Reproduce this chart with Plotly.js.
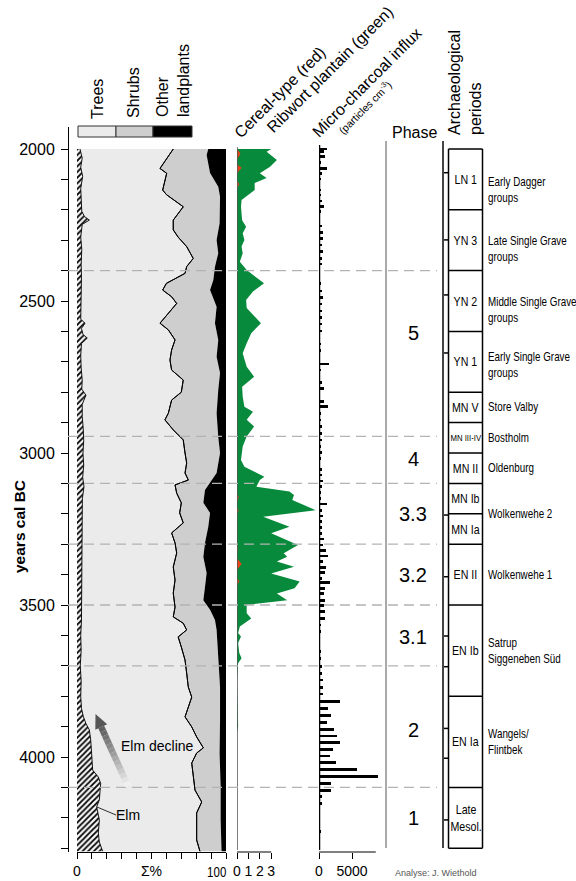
<!DOCTYPE html>
<html><head><meta charset="utf-8">
<script src="https://cdn.plot.ly/plotly-3.0.1.min.js"></script>
<style>html,body{margin:0;padding:0;background:#fff}#chart{width:576px;height:881px}</style>
</head><body><div id="chart"></div>
<script>
// ---------------- DATA ----------------
const treesYear = [2000,2015,2064,2080,2135,2150,2190,2234,2266,2290,2321,2360,2387,2409,2425,2442,2464,2486,2508,2540,2573,2595,2628,2661,2694,2727,2760,2800,2826,2869,2891,2924,2957,3000,3033,3066,3089,3105,3132,3164,3197,3230,3263,3296,3329,3375,3418,3461,3507,3539,3560,3582,3605,3638,3681,3724,3770,3803,3836,3868,3901,3934,3970,3987,4020,4066,4109,4148,4184,4230,4273,4310];
const treesPct = [64.6,62.4,55.7,60.2,57.5,60,71.3,64.6,64.6,67.9,73.6,78,73.6,72.5,66.9,60,57.5,63.5,66.9,61.3,55.7,61.3,65.8,63.5,62.4,63.5,71.3,70,63.5,61.3,59,64.6,71.3,72.5,73.6,72.5,74.7,65.8,66.9,70,68.9,71.3,63.5,65.8,66.9,64.6,65.8,64.6,65.8,64.6,71.3,73.6,67.9,70,72.5,73.6,74.7,77,74.7,72.5,77,80.3,84.8,80.3,77,78,79.2,83.7,80.3,80.3,80.3,82.5];

// cumulative trees + shrubs
const sumYear = [2000,2020,2079,2124,2157,2245,2299,2343,2387,2431,2464,2519,2573,2628,2683,2737,2793,2869,2947,3000,3066,3089,3122,3164,3197,3243,3296,3342,3395,3441,3484,3516,3549,3582,3658,3770,3878,3987,4098,4207,4310];
const sumPct = [88.1,87,89.3,94.8,96,95.7,93.7,94.8,92.6,91.5,89.3,93.7,92.6,94.8,93.7,96,94.8,93.7,94.8,96,93.7,90.4,85.9,84.8,89.3,88.1,85.9,84.8,87,85.9,84.8,89.3,92.6,93.7,94.8,96,96,95.7,96.4,96.4,97];

const elmYear = [2000,2030,2060,2090,2130,2170,2205,2222,2234,2248,2290,2330,2380,2420,2470,2520,2560,2573,2590,2610,2622,2640,2680,2720,2760,2790,2810,2840,2880,2920,2960,3000,3040,3080,3110,3150,3200,3250,3300,3350,3400,3450,3500,3550,3600,3650,3700,3750,3800,3840,3868,3890,3911,3944,3987,4020,4043,4066,4087,4110,4141,4164,4185,4207,4250,4280,4310];
const elmPct = [2.0,3.5,2.5,3.8,2.5,3.0,3.2,5.0,8.3,3.5,2.5,3.2,2.8,3.0,2.8,3.0,2.5,5.4,3.0,4.0,6.9,3.0,2.5,2.8,3.5,3.2,6.0,3.5,3.5,4.2,4.5,4.0,4.5,3.8,4.7,3.6,3.5,3.2,3.5,3.0,3.2,3.0,3.2,3.0,2.5,2.8,2.2,2.8,2.5,3.0,4.3,6.0,8.3,9.2,9.8,10.0,10.5,14.3,15.9,15.5,15.0,13.2,14.0,15.0,14.3,15.0,17.2];

const ribYear = [2000,2009,2036,2058,2080,2095,2112,2135,2168,2190,2234,2256,2277,2299,2321,2343,2371,2398,2442,2469,2497,2523,2573,2606,2639,2672,2716,2749,2782,2815,2848,2864,2891,2913,2946,2979,3023,3045,3078,3089,3111,3127,3138,3155,3188,3210,3243,3264,3303,3330,3341,3357,3374,3396,3423,3445,3462,3484,3500,3527,3544,3571,3592,3604,3625,3658,3675,3692,3750,3900,3920,4310];
const ribVal = [3.0,2.6,3.5,2.9,2.0,2.6,1.55,1.55,0.4,0.35,0.45,0.8,0.5,0.65,0.4,0.5,0.25,0.85,2.37,1.4,0.8,0.85,2.1,1.25,0.85,0.5,0.85,1.5,0.45,0.5,0.65,1.4,0.85,1.5,0.85,0.5,0.35,0.65,2.4,2.0,1.7,4.6,5.0,4.85,6.9,2.3,4.6,3.0,5.35,4.1,4.4,3.5,5.0,3.0,5.5,5.05,3.5,4.4,0.85,0.85,1.25,0.25,0.1,0.35,0.1,0.2,0.4,0.1,0,0.1,0,0];

const cerYear = [2000,2015,2035,2050,2062,2080,2105,2115,2130,3135,3145,3160,3180,3188,3200,3305,3315,3330,3345,3365,3385,3410,3423,3435,4310];
const cerVal = [0,0.3,0,0,0.4,0,0,0.2,0,0,0.15,0,0,0.15,0,0,0.1,0,0,0.4,0,0,0.2,0,0];

const charYear = [2000,2009,2025,2045,2063,2080,2099,2135,2151,2171,2190,2206,2253,2275,2295,2316,2338,2360,2378,2442,2467,2488,2510,2533,2555,2576,2599,2641,2663,2707,2727,2767,2787,2831,2848,2869,2891,2913,2935,2957,2979,2999,3017,3054,3072,3092,3111,3129,3149,3168,3188,3207,3226,3244,3264,3283,3303,3321,3339,3358,3376,3394,3412,3427,3445,3462,3484,3502,3522,3544,3566,3588,3632,3654,3675,3703,3725,3747,3771,3793,3818,3841,3864,3886,3909,3931,3953,3975,3997,4019,4042,4063,4086,4109,4131,4154,4177,4198,4220,4244,4267,4295];
const charVal = [1260,760,860,350,1160,450,250,350,250,500,760,350,450,650,600,450,600,450,450,350,500,600,500,450,400,500,400,300,250,1460,250,400,700,700,1360,350,350,450,500,450,350,450,350,500,450,600,400,250,350,1210,450,600,500,500,450,760,600,1010,1360,600,1010,860,500,1620,960,760,860,760,860,860,350,250,200,250,250,450,400,600,600,600,3230,1360,1770,1210,2270,2730,3230,2120,1720,2520,5810,8890,1770,1870,500,400,100,100,100,300,100,100];

const yTickYears = [2000,2100,2200,2300,2400,2500,2600,2700,2800,2900,3000,3100,3200,3300,3400,3500,3600,3700,3800,3900,4000,4100,4200,4300];
const yTickLabels = ['2000','','','','','2500','','','','','3000','','','','','3500','','','','','4000','','',''];
const pctTicks = [0,10,20,30,40,50,60,70,80,90,100];
const pctTickLabels = ['0','','','','','Σ%','','','','','100'];
const cerTicks = [0,1,2,3];
const charTicks = [0,5000];

const dashYears = [2400,2945,3100,3300,3500,3700,4100];
const phaseNames = ['5','4','3.3','3.2','3.1','2','1'];
const phaseYears = [2605,3020,3200,3400,3605,3910,4200];

const periodBounds = [2000,2200,2400,2600,2800,2900,3000,3100,3200,3300,3500,3800,4100,4300];
const periodNames = ['LN 1','YN 3','YN 2','YN 1','MN V','MN III-IV','MN II','MN Ib','MN Ia','EN II','EN Ib','EN Ia','Late<br>Mesol.'];
const periodTickYears = [2078,2299,2480,2671,3204,3407,3602,3703,3906,4004,4207];
const cultureNames = ['Early Dagger<br>groups','Late Single Grave<br>groups','Middle Single Grave<br>groups','Early Single Grave<br>groups','Store Valby','Bostholm','Oldenburg','Wolkenwehe 2','Wolkenwehe 1','Satrup<br>Siggeneben Süd','Wangels/<br>Flintbek'];
const cultureYears = [2135,2330,2530,2710,2850,2950,3050,3200,3400,3650,3950];

// ---------------- LAYOUT HELPERS ----------------
const W = 576, H = 881, T = 127, B = 29, PH = H - T - B;
const PXY = 0.304; // px per year
const px = x => x / W;
const py = y => 1 - (y - T) / PH;
const FONT = 'Liberation Sans, Arial, Helvetica, sans-serif';
const LIGHT = '#ebebeb', MID = '#cecece', GREEN = '#078a3b', RED = '#e8431a';

const yTop = 2000 - (149 - T) / PXY;
const yBot = 2000 + (852 - 149) / PXY;

// ---------------- TRACES ----------------
const traces = [
  {x: treesPct, y: treesYear, xaxis: 'x', yaxis: 'y', mode: 'lines', fill: 'tozerox',
   fillcolor: LIGHT, line: {color: '#000', width: 1}, hoverinfo: 'skip', name: 'Trees'},
  {x: sumPct, y: sumYear, xaxis: 'x', yaxis: 'y', mode: 'lines', fill: 'tonextx',
   fillcolor: MID, line: {color: MID, width: 0}, hoverinfo: 'skip', name: 'Shrubs'},
  {x: sumYear.map(() => 100), y: sumYear, xaxis: 'x', yaxis: 'y', mode: 'lines', fill: 'tonextx',
   fillcolor: '#000', line: {color: '#000', width: 0}, hoverinfo: 'skip', name: 'Other landplants'},
  {x: treesPct, y: treesYear, xaxis: 'x', yaxis: 'y', mode: 'lines',
   line: {color: '#000', width: 1}, hoverinfo: 'skip', name: 'Trees line'},
  {x: elmPct, y: elmYear, xaxis: 'x', yaxis: 'y', mode: 'lines', fill: 'tozerox',
   fillcolor: '#f7f7f7', fillpattern: {shape: '/', fgcolor: '#000', bgcolor: '#f7f7f7', size: 4, solidity: 0.45},
   line: {color: '#000', width: 0.9}, hoverinfo: 'skip', name: 'Elm'},
  {x: ribVal, y: ribYear, xaxis: 'x2', yaxis: 'y', mode: 'lines', fill: 'tozerox',
   fillcolor: GREEN, line: {color: GREEN, width: 0}, hoverinfo: 'skip', name: 'Ribwort plantain'},
  {x: cerVal, y: cerYear, xaxis: 'x2', yaxis: 'y', mode: 'lines', fill: 'tozerox',
   fillcolor: RED, line: {color: RED, width: 0}, hoverinfo: 'skip', name: 'Cereal-type'},
  {x: charVal, y: charYear, xaxis: 'x3', yaxis: 'y', type: 'bar', orientation: 'h',
   width: 9, marker: {color: '#000', line: {width: 0}}, hoverinfo: 'skip', name: 'Micro-charcoal'}
];

// ---------------- SHAPES ----------------
const shapes = [];
const line = (x0, y0, x1, y1, color, width, extra) => Object.assign({type: 'line', x0, y0, x1, y1,
  xref: 'paper', yref: 'paper', line: {color, width}}, extra || {});

shapes.push({type: 'line', xref: 'x2', yref: 'paper', x0: 0, x1: 0, y0: py(850), y1: py(147), line: {color: '#555', width: 1.5}});
shapes.push({type: 'line', xref: 'x2', yref: 'paper', x0: 0, x1: 3, y0: 0, y1: 0, line: {color: '#000', width: 1}});
shapes.push({type: 'line', xref: 'x3', yref: 'paper', x0: 0, x1: 0, y0: py(850), y1: py(145), line: {color: '#000', width: 2.5}});
shapes.push({type: 'line', xref: 'x3', yref: 'paper', x0: 0, x1: 8600, y0: 0, y1: 0, line: {color: '#000', width: 1}});
shapes.push(line(px(386), py(141), px(386), py(848), '#555', 1));
shapes.push(line(px(443), py(141), px(443), py(848), '#444', 2));
dashYears.forEach(yr => shapes.push({type: 'line', xref: 'paper', yref: 'y', x0: px(68), x1: px(437), y0: yr, y1: yr,
  line: {color: '#b3b3b3', width: 1.3, dash: '10px,6px'}, layer: 'above'}));
periodBounds.forEach(yr => shapes.push({type: 'line', xref: 'paper', yref: 'y', x0: px(448.5), x1: px(482.5), y0: yr, y1: yr,
  line: {color: '#000', width: 1.5}}));
[448.5, 482.5].forEach(xx => shapes.push({type: 'line', xref: 'paper', yref: 'y', x0: px(xx), x1: px(xx),
  y0: periodBounds[0], y1: periodBounds[periodBounds.length - 1], line: {color: '#000', width: 1.5}}));
periodTickYears.forEach(yr => shapes.push({type: 'line', xref: 'paper', yref: 'y', x0: px(444), x1: px(448.5), y0: yr, y1: yr,
  line: {color: '#000', width: 1.5}}));
[[78, 116, LIGHT], [116, 153, MID], [153, 192, '#000']].forEach(([a, b, c]) => shapes.push({type: 'rect', xref: 'paper', yref: 'paper',
  x0: px(a), x1: px(b), y0: py(137), y1: py(126), fillcolor: c, line: {color: '#333', width: 1}}));
// Elm decline gradient arrow
const tail = [128, 786], base = [101.2, 727];
const N = 14;
for (let i = 0; i < N; i++) {
  const t0 = i / N, t1 = (i + 1) / N;
  const g = Math.round(248 - (248 - 90) * Math.pow((i + 0.5) / N, 0.9));
  shapes.push(line(px(tail[0] + (base[0] - tail[0]) * t0), py(tail[1] + (base[1] - tail[1]) * t0),
    px(tail[0] + (base[0] - tail[0]) * t1), py(tail[1] + (base[1] - tail[1]) * t1), `rgb(${g},${g},${g})`, 6.5));
}
const tip = [95.5, 714], b1 = [107.2, 724.3], b2 = [95.3, 729.7];
shapes.push({type: 'path', xref: 'paper', yref: 'paper',
  path: `M ${px(tip[0])} ${py(tip[1])} L ${px(b1[0])} ${py(b1[1])} L ${px(b2[0])} ${py(b2[1])} Z`,
  fillcolor: '#555', line: {width: 0}});
shapes.push(line(px(97), py(807), px(116), py(815), '#000', 0.8));

// ---------------- ANNOTATIONS ----------------
const annotations = [];
const condensed = {}; // annotation index -> 'left' | 'center'
const ann = (text, x, y, size, extra) => annotations.push(Object.assign({text, x: px(x), y: py(y), xref: 'paper', yref: 'paper',
  showarrow: false, xanchor: 'center', yanchor: 'middle', font: {family: FONT, size, color: '#000'}}, extra || {}));

ann('Trees', 97, 99, 16, {textangle: -90});
ann('Shrubs', 133.5, 92.5, 16, {textangle: -90});
ann('Other<br>landplants', 172.5, 80.5, 16, {textangle: -90, align: 'left'});
ann('Cereal-type (red)', 280, 93, 16, {textangle: -45});
ann('Ribwort plantain (green)', 330, 70, 16, {textangle: -45});
ann('Micro-charcoal influx', 367, 83, 16, {textangle: -45});
ann('(particles cm<sup>-3</sup>)', 365, 107, 10.5, {textangle: -45});
ann('Phase', 414, 132, 16);
ann('Archaeological<br>periods', 465, 83, 16, {textangle: -90, align: 'left'});
ann('<b>years cal BC</b>', 19, 527, 15.5, {textangle: -90});
ann('Elm decline', 157, 746, 14);
ann('Elm', 128, 815, 14);
ann('Analyse: J. Wiethold', 436, 873, 9, {font: {family: FONT, size: 9, color: '#555'}});
ann('100', 216.5, 872, 14);
condensed[annotations.length - 1] = 'center';

phaseNames.forEach((n, i) => annotations.push({text: n, x: px(413), y: phaseYears[i], xref: 'paper', yref: 'y',
  showarrow: false, xanchor: 'center', yanchor: 'middle', font: {family: FONT, size: 20, color: '#000'}}));
periodNames.forEach((n, i) => {
  annotations.push({text: n, x: px(465.5), y: (periodBounds[i] + periodBounds[i + 1]) / 2,
    xref: 'paper', yref: 'y', showarrow: false, xanchor: 'center', yanchor: 'middle',
    font: {family: FONT, size: n === 'MN III-IV' ? 9.5 : 13, color: '#000'}});
  condensed[annotations.length - 1] = 'center';
});
cultureNames.forEach((n, i) => {
  annotations.push({text: n, x: px(486), y: cultureYears[i], xref: 'paper', yref: 'y',
    showarrow: false, xanchor: 'left', yanchor: 'middle', align: 'left',
    font: {family: FONT, size: 12, color: '#000'}});
  condensed[annotations.length - 1] = 'left';
});

// ---------------- LAYOUT ----------------
const tickFont = {family: FONT, size: 14, color: '#000'};
const layout = {
  width: W, height: H,
  margin: {l: 0, r: 0, t: T, b: B, pad: 0},
  paper_bgcolor: '#fff', plot_bgcolor: 'rgba(0,0,0,0)',
  showlegend: false, bargap: 0,
  font: {family: FONT, color: '#000'},
  yaxis: {range: [yBot, yTop], autorange: false, anchor: 'free', position: px(68), side: 'left',
    showline: true, linecolor: '#000', linewidth: 1, ticks: 'outside', ticklen: 7, tickwidth: 1, tickcolor: '#000',
    tickvals: yTickYears, ticktext: yTickLabels, tickfont: {family: FONT, size: 16, color: '#000'},
    ticklabelstandoff: 3, showgrid: false, zeroline: false},
  xaxis: {domain: [px(77), px(226)], range: [0, 100], anchor: 'y', showline: true, linecolor: '#000', linewidth: 1,
    ticks: 'outside', ticklen: 6, tickcolor: '#000', tickvals: pctTicks,
    ticktext: pctTickLabels.map(t => t === '100' ? '' : t),
    tickfont: tickFont, showgrid: false, zeroline: false},
  xaxis2: {domain: [px(237), px(318)], range: [0, 81 / 11.4], anchor: 'y', showline: false,
    ticks: 'outside', ticklen: 6, tickcolor: '#000', tickvals: cerTicks, ticktext: cerTicks.map(String),
    tickfont: tickFont, showgrid: false, zeroline: false},
  xaxis3: {domain: [px(319), px(380)], range: [0, 61 / 0.0066], anchor: 'y', showline: false,
    ticks: 'outside', ticklen: 6, tickcolor: '#000', tickvals: charTicks, ticktext: charTicks.map(String),
    tickfont: tickFont, showgrid: false, zeroline: false},
  shapes, annotations
};

const gd = document.getElementById('chart');
Plotly.newPlot(gd, traces, layout, {staticPlot: true, displayModeBar: false}).then(() => {
  // narrow (condensed) lettering as in the original, applied to real SVG text
  gd.querySelectorAll('g.annotation').forEach(g => {
    const mode = condensed[+g.getAttribute('data-index')];
    if (!mode) return;
    const t = g.querySelector('text.annotation-text');
    if (!t) return;
    const bb = t.getBBox();
    const x0 = mode === 'left' ? bb.x : bb.x + bb.width / 2;
    const prev = t.getAttribute('transform') || '';
    t.setAttribute('transform', `${prev} translate(${x0},0) scale(0.82,1) translate(${-x0},0)`.trim());
  });
});
</script></body></html>
